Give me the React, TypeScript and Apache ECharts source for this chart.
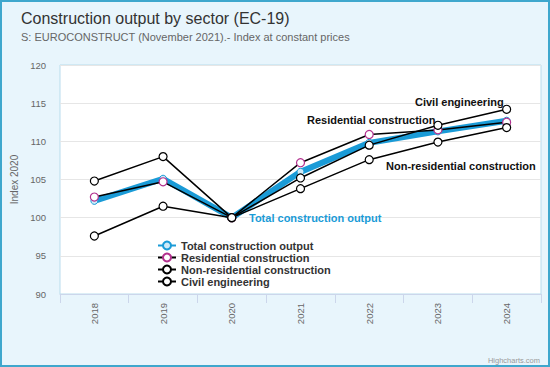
import React, { useEffect, useRef } from "react";
import * as echarts from "echarts";

const years = ["2018", "2019", "2020", "2021", "2022", "2023", "2024"];
const totalOutput = [102.2, 105.1, 100, 106.0, 109.8, 111.3, 112.7];
const residential = [102.7, 104.7, 100, 107.2, 110.9, 111.5, 112.5];
const nonResidential = [104.8, 108.0, 100, 103.8, 107.6, 109.9, 111.8];
const civilEngineering = [97.6, 101.5, 100, 105.2, 109.5, 112.1, 114.2];
const yTicks = { min: 90, max: 120, interval: 5 };

const FONT = "'Liberation Sans', Arial, sans-serif";
const BLUE = "#1a9bd7";

export default function App() {
  const ref = useRef<HTMLDivElement>(null);
  useEffect(() => {
    document.body.style.margin = "0";
    const chart = echarts.init(ref.current!, null, { renderer: "svg" });
    const blackSeries = (name: string, data: number[], border: string) => ({
      name,
      type: "line",
      data,
      z: 3,
      symbol: "circle",
      symbolSize: 8,
      lineStyle: { color: "#000", width: 1.5 },
      itemStyle: { color: "#fff", borderColor: border, borderWidth: 1.2 },
    });
    chart.setOption({
      animation: false,
      backgroundColor: "#e8f5fc",
      textStyle: { fontFamily: FONT },
      title: {
        text: "Construction output by sector (EC-19)",
        subtext: "S: EUROCONSTRUCT (November 2021).- Index at constant prices",
        left: 16,
        top: 5,
        itemGap: 5,
        textStyle: { fontFamily: FONT, fontSize: 16, fontWeight: "normal", color: "#333" },
        subtextStyle: { fontFamily: FONT, fontSize: 11, color: "#666" },
      },
      grid: {
        left: 60,
        top: 65,
        width: 481,
        height: 229,
        show: true,
        backgroundColor: "#fff",
        borderColor: "#b9dced",
        borderWidth: 1,
        containLabel: false,
      },
      legend: {
        orient: "vertical",
        left: 152,
        top: 235,
        itemGap: 1,
        itemWidth: 18,
        itemHeight: 10,
        textStyle: { fontFamily: FONT, fontSize: 11, fontWeight: "bold", color: "#333", lineHeight: 11 },
        data: ["Total construction output", "Residential construction", "Non-residential construction", "Civil engineering"],
      },
      xAxis: {
        type: "category",
        data: years,
        boundaryGap: true,
        axisLine: { show: true, lineStyle: { color: "#ccd6eb" } },
        axisTick: { show: true, length: 9, lineStyle: { color: "#ccd6eb" } },
        axisLabel: { rotate: 90, margin: 9, fontSize: 9.5, color: "#666", fontFamily: FONT },
        splitLine: { show: false },
      },
      yAxis: {
        type: "value",
        min: yTicks.min,
        max: yTicks.max,
        interval: yTicks.interval,
        name: "Index 2020",
        nameLocation: "middle",
        nameRotate: 90,
        nameGap: 37,
        nameTextStyle: { fontSize: 10, color: "#666", fontFamily: FONT },
        axisLine: { show: false },
        axisTick: { show: false },
        axisLabel: { margin: 14, fontSize: 9.5, color: "#666", fontFamily: FONT },
        splitLine: { lineStyle: { color: "#e6e6e6" } },
      },
      series: [
        {
          name: "Total construction output",
          type: "line",
          data: totalOutput,
          z: 2,
          symbol: "circle",
          symbolSize: 7,
          lineStyle: { color: BLUE, width: 6 },
          itemStyle: { color: "#cfeaf8", borderColor: BLUE, borderWidth: 1 },
        },
        blackSeries("Residential construction", residential, "#b3318f"),
        blackSeries("Non-residential construction", nonResidential, "#000"),
        blackSeries("Civil engineering", civilEngineering, "#000"),
      ],
      graphic: [
        {
          type: "rect",
          shape: { x: 1, y: 1, width: 548, height: 365 },
          style: { fill: "none", stroke: "#3fa7cd", lineWidth: 2 },
          silent: true,
          z: 100,
        },
        {
          type: "text",
          x: 415,
          y: 102,
          style: { text: "Civil engineering", fill: "#111", font: `bold 11px ${FONT}`, textVerticalAlign: "middle" },
          z: 50,
        },
        {
          type: "text",
          x: 307,
          y: 120,
          style: { text: "Residential construction", fill: "#111", font: `bold 11px ${FONT}`, textVerticalAlign: "middle" },
          z: 50,
        },
        {
          type: "text",
          x: 386,
          y: 166,
          style: { text: "Non-residential construction", fill: "#111", font: `bold 11px ${FONT}`, textVerticalAlign: "middle" },
          z: 50,
        },
        {
          type: "text",
          x: 249,
          y: 218,
          style: { text: "Total construction output", fill: BLUE, font: `bold 11px ${FONT}`, textVerticalAlign: "middle" },
          z: 50,
        },
        {
          type: "text",
          right: 10,
          y: 360,
          style: { text: "Highcharts.com", fill: "#999", font: `7.5px ${FONT}`, textVerticalAlign: "middle" },
          z: 50,
        },
      ],
    });
    return () => chart.dispose();
  }, []);
  return <div ref={ref} style={{ position: "absolute", left: 0, top: 0, width: 550, height: 367 }} />;
}
